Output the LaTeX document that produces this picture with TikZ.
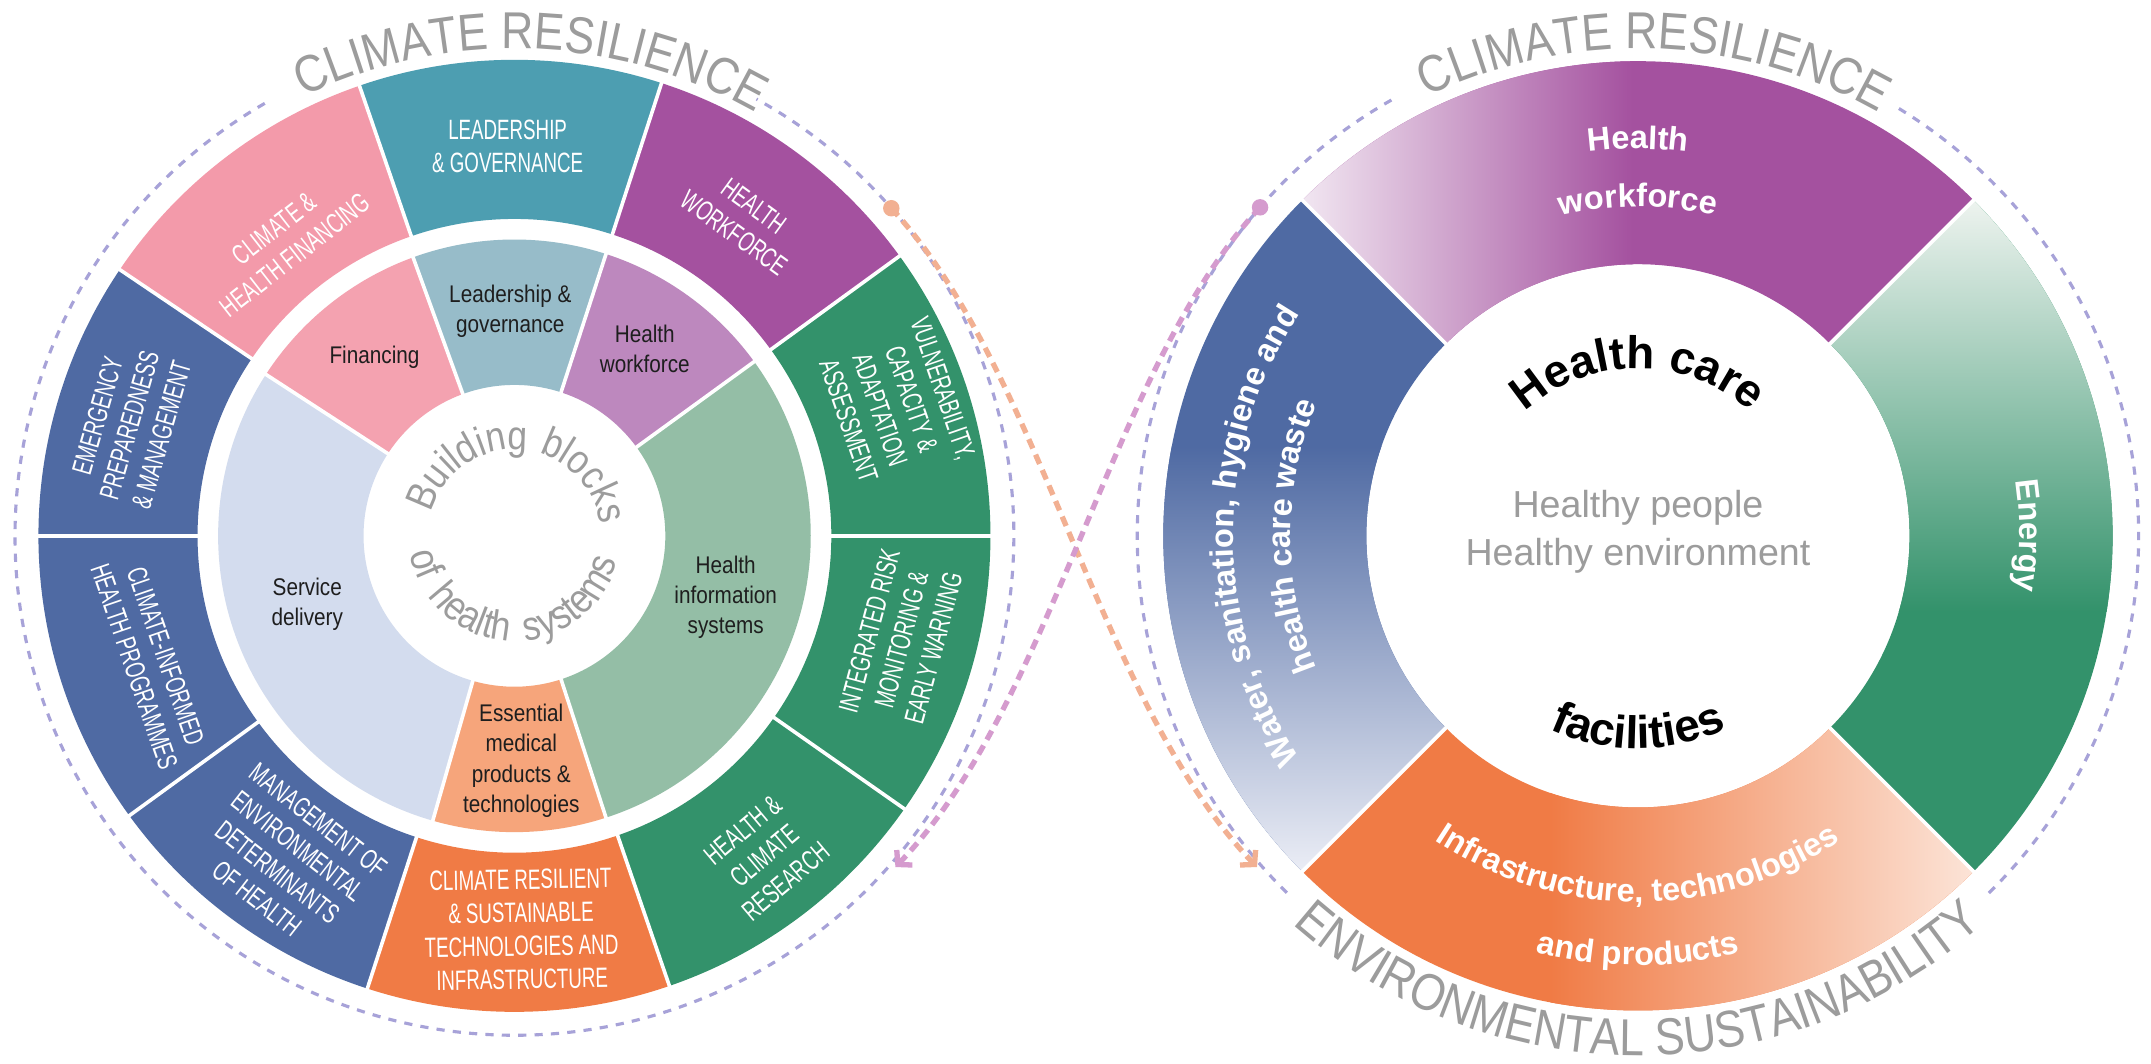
\documentclass[tikz,border=0pt]{standalone}
\usepackage{fontspec}
\setmainfont{Liberation Sans}
\newfontfamily\condfont{Liberation Sans}[FakeStretch=0.86]
\newfontfamily\narrowfont{Liberation Sans}[FakeStretch=0.67]
\usetikzlibrary{decorations.text, arrows.meta}

\definecolor{cteal}{HTML}{4D9EB1}
\definecolor{cteallt}{HTML}{97BCC9}
\definecolor{cpink}{HTML}{F39AAA}
\definecolor{cpinklt}{HTML}{F4A2B0}
\definecolor{cpurple}{HTML}{A4519F}
\definecolor{cpurplelt}{HTML}{BD88BE}
\definecolor{cpurplefade}{HTML}{F1E6F1}
\definecolor{cnavy}{HTML}{4F6AA3}
\definecolor{cnavylt}{HTML}{D3DCEE}
\definecolor{cnavyfade}{HTML}{ECEEF6}
\definecolor{cgreen}{HTML}{33926B}
\definecolor{cgreenlt}{HTML}{94BEA6}
\definecolor{cgreenfade}{HTML}{EFF4F0}
\definecolor{corange}{HTML}{F07B45}
\definecolor{corangelt}{HTML}{F6A57B}
\definecolor{corangefade}{HTML}{FCE5D9}
\definecolor{clav}{HTML}{A7A2D8}
\definecolor{cdotpink}{HTML}{D59BCE}
\definecolor{cdotorange}{HTML}{F2B092}
\definecolor{cgraytxt}{HTML}{9C9C9C}
\definecolor{cdark}{HTML}{1E1E1E}

\begin{document}
\begin{tikzpicture}[x=0.02cm, y=0.02cm, >=latex]

\tikzstyle{outerlabel}=[text=white, align=center, inner sep=0pt, font=\narrowfont\fontsize{11.6}{13.8}\selectfont]
\tikzstyle{midlabel}=[text=cdark, align=center, inner sep=0pt, font=\condfont\fontsize{10}{12.5}\selectfont]
\tikzstyle{seam}=[white, line width=1.5pt]
\tikzstyle{guide}=[clav, line width=1.3pt, dash pattern=on 3.4pt off 3.4pt]
\tikzstyle{link}=[line width=2.2pt, dash pattern=on 4.2pt off 2.8pt, -{Straight Barb[length=4pt, width=9pt]}]

% Canvas
\fill[white] (0,0) rectangle (1568,775.6);
\useasboundingbox (0,0) rectangle (1568,775.6);

\coordinate (L) at (375,385);
\coordinate (R) at (1194,385);

% Left: outer ring, climate-resilience components
\foreach \a/\b/\c in {0/36/cgreen, 36/72/cpurple, 72/109/cteal, 109/146/cpink, 146/216/cnavy, 216/252/cnavy, 252/289/corange, 289/360/cgreen}
  \fill[\c] ([shift={(\a:347)}]L) arc[start angle=\a, end angle=\b, radius=347]
    -- ([shift={(\b:231)}]L) arc[start angle=\b, end angle=\a, radius=231] -- cycle;
\foreach \a in {0,36,72,109,146,180,216,252,289,325}
  \draw[seam] ([shift={(\a:229)}]L) -- ([shift={(\a:349)}]L);

% Left: middle ring, building blocks
\foreach \a/\b/\c in {36/72/cpurplelt, 72/110/cteallt, 110/147/cpinklt, 147/254/cnavylt, 254/288/corangelt, 288/396/cgreenlt}
  \fill[\c] ([shift={(\a:216)}]L) arc[start angle=\a, end angle=\b, radius=216]
    -- ([shift={(\b:110)}]L) arc[start angle=\b, end angle=\a, radius=110] -- cycle;
\foreach \a in {36,72,110,147,254,288}
  \draw[seam] ([shift={(\a:108)}]L) -- ([shift={(\a:218)}]L);

% Left: outer ring labels
\node[outerlabel] (leadout) at ([shift={(91:284)}]L) {LEADERSHIP\\\& GOVERNANCE};
\node[outerlabel, rotate=38] (finout) at ([shift={(128:272)}]L) {CLIMATE \&\\HEALTH FINANCING};
\node[outerlabel, rotate=-36] (workout) at ([shift={(54:285)}]L) {HEALTH\\WORKFORCE};
\node[outerlabel, rotate=-71] (vulnout) at ([shift={(19:294)}]L) {VULNERABILITY,\\CAPACITY \&\\ADAPTATION\\ASSESSMENT};
\node[outerlabel, rotate=75] (riskout) at ([shift={(-15:292)}]L) {INTEGRATED RISK\\MONITORING \&\\EARLY WARNING};
\node[outerlabel, rotate=40] (resout) at ([shift={(-52:296)}]L) {HEALTH \&\\CLIMATE\\RESEARCH};
\node[outerlabel, rotate=1] (techout) at ([shift={(-89:287)}]L) {CLIMATE RESILIENT\\\& SUSTAINABLE\\TECHNOLOGIES AND\\INFRASTRUCTURE};
\node[outerlabel, rotate=-38] (envout) at ([shift={(235:288)}]L) {MANAGEMENT OF\\ENVIRONMENTAL\\DETERMINANTS\\OF HEALTH};
\node[outerlabel, rotate=-71] (progout) at ([shift={(199:281)}]L) {CLIMATE-INFORMED\\HEALTH PROGRAMMES};
\node[outerlabel, rotate=74] (emerout) at ([shift={(164:292)}]L) {EMERGENCY\\PREPAREDNESS\\\& MANAGEMENT};

% Left: middle ring labels
\node[midlabel] (finmid) at (273,515) {Financing};
\node[midlabel] (leadmid) at (372,549) {Leadership \&\\governance};
\node[midlabel] (workmid) at (470,521) {Health\\workforce};
\node[midlabel] (servmid) at (224,335) {Service\\delivery};
\node[midlabel] (infomid) at (529,340) {Health\\information\\systems};
\node[midlabel] (essmid) at (380,221) {Essential\\medical\\products \&\\technologies};

% Left: centre title
\path[decorate, decoration={text along path, text align=center, text={|\condfont\fontsize{17}{17}\selectfont\color{cgraytxt}|Building{\kern5pt}blocks}}]
  ([shift={(176:63)}]L) arc[start angle=176, end angle=-4, radius=63];
\path[decorate, decoration={text along path, text align=center, text={|\condfont\fontsize{17}{17}\selectfont\color{cgraytxt}|of{\kern7pt}health{\kern7pt}systems}}]
  ([shift={(178:77)}]L) arc[start angle=178, end angle=358, radius=77];

% Right: four quarters with fades
\begin{scope}
  \clip ([shift={(45:346)}]R) arc[start angle=45, end angle=135, radius=346] -- ([shift={(135:198)}]R) arc[start angle=135, end angle=45, radius=198] -- cycle;
  \fill[cpurple] (900,480) rectangle (1500,760);
  \shade[left color=cpurplefade, right color=cpurple] (950,480) rectangle (1190,760);
\end{scope}
\begin{scope}
  \clip ([shift={(-45:346)}]R) arc[start angle=-45, end angle=45, radius=346] -- ([shift={(45:198)}]R) arc[start angle=45, end angle=-45, radius=198] -- cycle;
  \fill[cgreen] (1300,20) rectangle (1560,760);
  \shade[top color=cgreenfade, bottom color=cgreen] (1300,330) rectangle (1560,632);
\end{scope}
\begin{scope}
  \clip ([shift={(225:346)}]R) arc[start angle=225, end angle=315, radius=346] -- ([shift={(315:198)}]R) arc[start angle=315, end angle=225, radius=198] -- cycle;
  \fill[corange] (900,20) rectangle (1500,300);
  \shade[left color=corange, right color=corangefade] (1130,20) rectangle (1442,300);
\end{scope}
\begin{scope}
  \clip ([shift={(135:346)}]R) arc[start angle=135, end angle=225, radius=346] -- ([shift={(225:198)}]R) arc[start angle=225, end angle=135, radius=198] -- cycle;
  \fill[cnavy] (830,20) rectangle (1100,760);
  \shade[top color=cnavy, bottom color=cnavyfade] (830,138) rectangle (1100,450);
\end{scope}
\foreach \a in {45,135,225,315}
  \draw[seam] ([shift={(\a:196)}]R) -- ([shift={(\a:348)}]R);

% Right: ring labels
\path[decorate, decoration={text along path, text align=center, text={|\fontsize{13.5}{13.5}\selectfont\bfseries\color{white}|Health}}]
  ([shift={(150:282)}]R) arc[start angle=150, end angle=30, radius=282];
\path[decorate, decoration={text along path, text align=center, text={|\fontsize{13.5}{13.5}\selectfont\bfseries\color{white}|workforce}}]
  ([shift={(150:240)}]R) arc[start angle=150, end angle=30, radius=240];
\path[decorate, decoration={text along path, text align=center, text={|\fontsize{13.5}{13.5}\selectfont\bfseries\color{white}|Energy}}]
  ([shift={(60:278)}]R) arc[start angle=60, end angle=-60, radius=278];
\path[decorate, decoration={text along path, text align=center, text={|\fontsize{13.5}{13.5}\selectfont\bfseries\color{white}|Water, sanitation, hygiene and}}]
  ([shift={(245:295)}]R) arc[start angle=245, end angle=115, radius=295];
\path[decorate, decoration={text along path, text align=center, text={|\fontsize{13.5}{13.5}\selectfont\bfseries\color{white}|health care waste}}]
  ([shift={(240:253)}]R) arc[start angle=240, end angle=120, radius=253];
\path[decorate, decoration={text along path, text align=center, text={|\fontsize{13.5}{13.5}\selectfont\bfseries\color{white}|Infrastructure, technologies}}]
  ([shift={(205:267)}]R) arc[start angle=205, end angle=335, radius=267];
\path[decorate, decoration={text along path, text align=center, text={|\fontsize{13.5}{13.5}\selectfont\bfseries\color{white}|and products}}]
  ([shift={(215:313)}]R) arc[start angle=215, end angle=325, radius=313];

% Right: centre texts
\path[decorate, decoration={text along path, text align=center, text={|\fontsize{19}{19}\selectfont\bfseries\color{black}|Health care}}]
  ([shift={(170:122)}]R) arc[start angle=170, end angle=10, radius=122];
\path[decorate, decoration={text along path, text align=center, text={|\fontsize{19}{19}\selectfont\bfseries\color{black}|facilities}}]
  ([shift={(200:155)}]R) arc[start angle=200, end angle=340, radius=155];
\node[text=cgraytxt, align=center, font=\fontsize{15.6}{19.6}\selectfont] (healthy) at (1194,388) {Healthy people\\Healthy environment};

% Arc titles
\path[decorate, decoration={text along path, text align=center, text={|\condfont\fontsize{21.5}{21.5}\selectfont\color{cgraytxt}|CLIMATE RESILIENCE}}]
  ([shift={(138:355)}]L) arc[start angle=138, end angle=38, radius=355];
\path[decorate, decoration={text along path, text align=center, text={|\condfont\fontsize{21.5}{21.5}\selectfont\color{cgraytxt}|CLIMATE RESILIENCE}}]
  ([shift={(138:355)}]R) arc[start angle=138, end angle=38, radius=355];
\path[decorate, decoration={text along path, text align=center, text={|\condfont\fontsize{21.5}{21.5}\selectfont\color{cgraytxt}|ENVIRONMENTAL SUSTAINABILITY}}]
  ([shift={(210:379)}]R) arc[start angle=210, end angle=330, radius=379];

% Dashed guide circles
\draw[guide] ([shift={(120:364)}]L) arc[start angle=120, end angle=421, radius=364];
\draw[guide] ([shift={(119.5:365)}]R) arc[start angle=119.5, end angle=225.7, radius=365];
\draw[guide] ([shift={(-45.5:365)}]R) arc[start angle=-45.5, end angle=58.7, radius=365];

% Links between the two wheels
\coordinate (odot) at ([shift={(41:364)}]L);
\coordinate (pdot) at ([shift={(139:365)}]R);
\coordinate (otip) at ([shift={(221:368)}]R);
\coordinate (ptip) at ([shift={(-41:368)}]L);
\draw[link, cdotorange] (odot) .. controls +(109,-117) and +(-116,121) .. (otip);
\draw[link, cdotpink] (pdot) .. controls +(-109,-117) and +(116,121) .. (ptip);
\fill[cdotorange] (odot) circle[radius=6];
\fill[cdotpink] (pdot) circle[radius=6];

\end{tikzpicture}
\end{document}
